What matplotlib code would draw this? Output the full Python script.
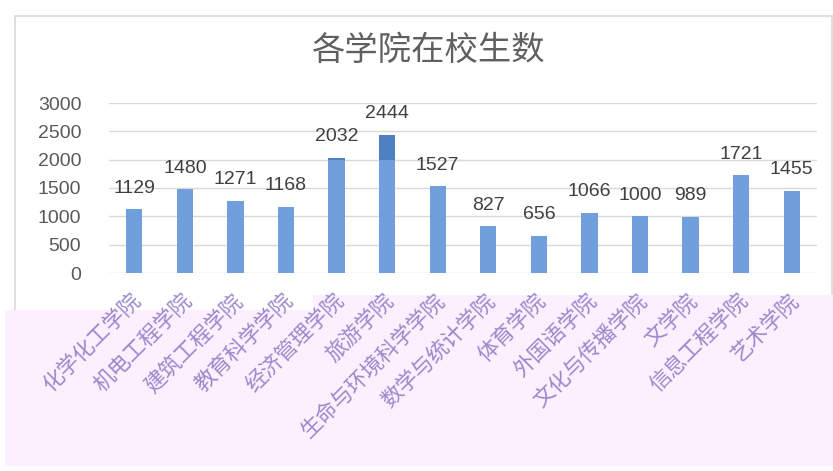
import numpy as np
import matplotlib
matplotlib.use('Agg')
import matplotlib.pyplot as plt
from matplotlib.patches import Rectangle

plt.rcParams['font.family'] = ['Noto Sans CJK SC', 'DejaVu Sans']

# 各学院在校生数
colleges = ['化学化工学院', '机电工程学院', '建筑工程学院', '教育科学学院', '经济管理学院',
            '旅游学院', '生命与环境科学学院', '数学与统计学院', '体育学院', '外国语学院',
            '文化与传播学院', '文学院', '信息工程学院', '艺术学院']
students = [1129, 1480, 1271, 1168, 2032, 2444, 1527, 827, 656, 1066, 1000, 989, 1721, 1455]
yticks = [0, 500, 1000, 1500, 2000, 2500, 3000]

W, H = 833, 471
fig = plt.figure(figsize=(W / 100, H / 100), dpi=100)
fig.patch.set_facecolor('white')

# 外框和下方粉色区域
fig.add_artist(Rectangle((15 / W, 1 - 463 / H), (832 - 15) / W, (463 - 16) / H,
                         transform=fig.transFigure, facecolor='none',
                         edgecolor='#d9d9d9', lw=1.2, zorder=0))
fig.add_artist(Rectangle((5 / W, 1 - 466 / H), (833 - 5) / W, (466 - 310) / H,
                         transform=fig.transFigure, facecolor='#fcf0ff',
                         edgecolor='none', zorder=0))
fig.add_artist(Rectangle((313 / W, 1 - 466 / H), (833 - 313) / W, (466 - 295) / H,
                         transform=fig.transFigure, facecolor='#fcf0ff',
                         edgecolor='none', zorder=0))

ax = fig.add_axes([109 / W, 198 / H, 708 / W, 170 / H])
ax.set_facecolor('none')
x = np.arange(len(colleges))
vals = np.array(students)

ax.bar(x, np.minimum(vals, 2000), width=0.32, color='#6fa0dc', zorder=3)
ax.bar(x, np.maximum(vals - 2000, 0), bottom=2000, width=0.32, color='#4f80c0', zorder=3)

for i, v in enumerate(students):
    ax.annotate(str(v), (i, v), xytext=(0, 9), textcoords='offset points',
                ha='center', va='bottom', fontsize=14, color='#404040',
                family=['Liberation Sans', 'DejaVu Sans'])

ax.set_xlim(-0.5, len(colleges) - 0.5)
ax.set_ylim(0, 3000)
ax.set_yticks(yticks)
ax.set_yticklabels([str(t) for t in yticks], fontsize=14, color='#595959',
                   family=['Liberation Sans', 'DejaVu Sans'])
ax.tick_params(axis='y', length=0, pad=20)
ax.tick_params(axis='x', length=0)
ax.set_xticks(x)
ax.set_xticklabels([])
ax.grid(axis='y', color='#d9d9d9', lw=1, zorder=0)
for s in ax.spines.values():
    s.set_visible(False)

for i, name in enumerate(colleges):
    ax.annotate(name, (i, 0), xytext=(-3, -12), textcoords='offset points',
                rotation=45, rotation_mode='anchor', ha='right', va='top',
                fontsize=15.5, color='#9d88cc', fontweight='light')

fig.text(428 / W, 1 - 50 / H, '各学院在校生数', ha='center', va='center',
         fontsize=24, color='#606060', fontweight='light')

plt.savefig('out.png', dpi=100)
